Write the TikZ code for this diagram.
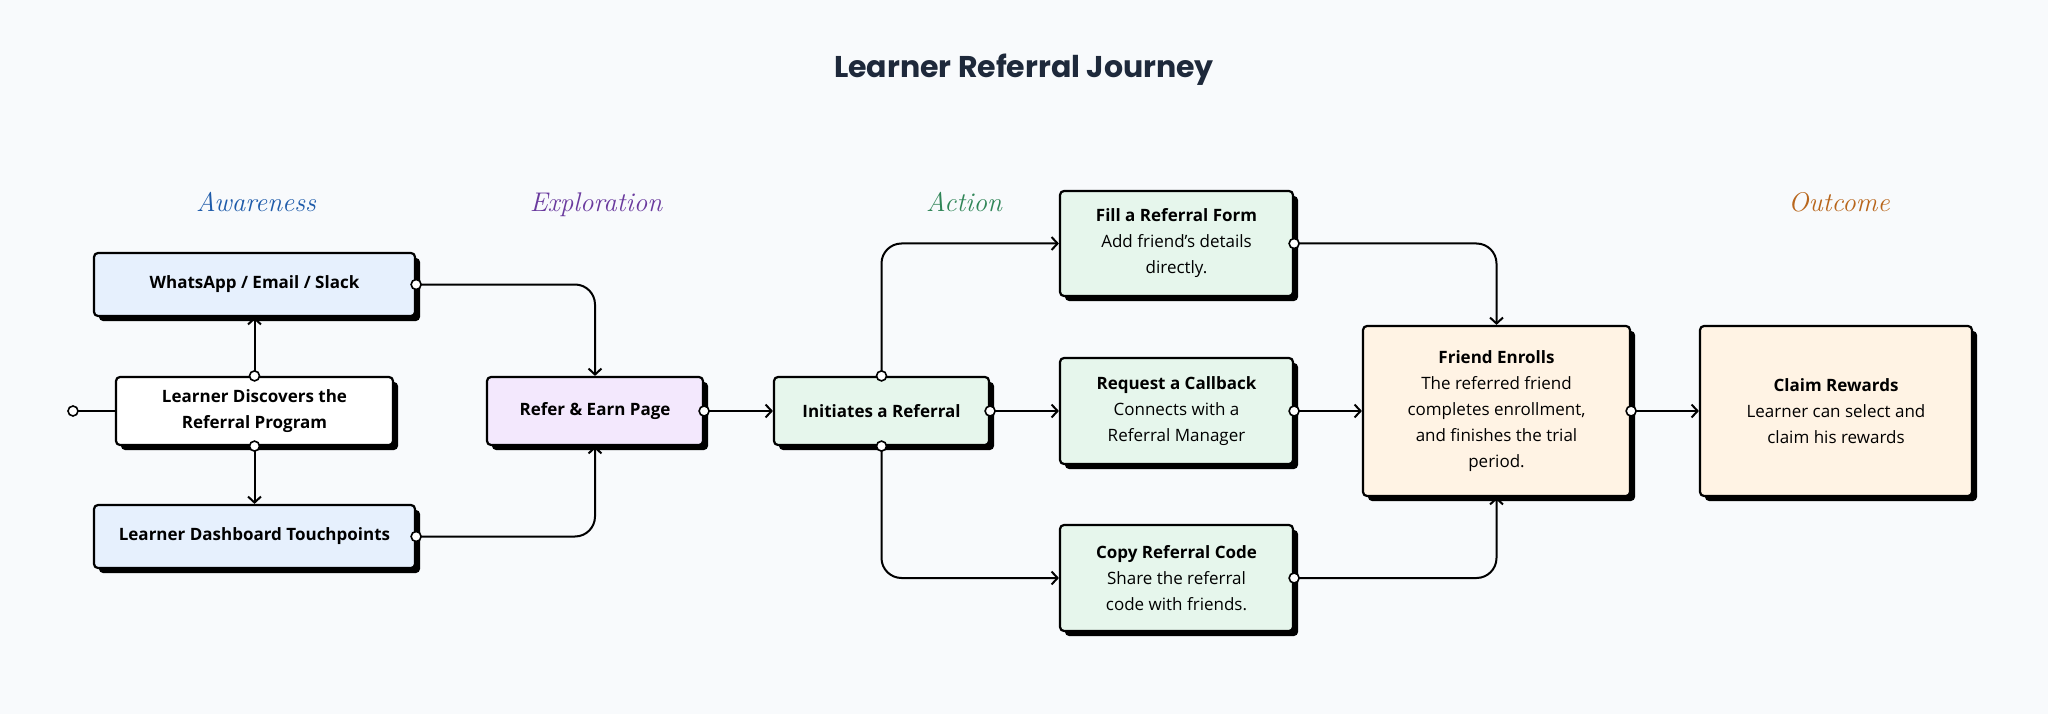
\documentclass[tikz,border=0pt]{standalone}
\usepackage{fontspec}
\setsansfont{Open Sans}
\newfontfamily\titleFont{Poppins}
\usetikzlibrary{arrows.meta,shadows}

\begin{document}
\begin{tikzpicture}[x=1pt, y=-1pt,
    font=\sffamily\fontsize{17}{26}\selectfont,
    box/.style={draw=borderColour, line width=2.2pt, rounded corners=4pt, align=center, inner sep=0pt,
        drop shadow={shadow xshift=5pt, shadow yshift=-5pt, opacity=1, fill=borderColour}},
    link/.style={draw=borderColour, line width=2pt, rounded corners=20pt},
    conn/.style={link, -{Straight Barb[length=6pt,width=13pt,line width=2pt]}},
    port/.style={fill=white, draw=borderColour, line width=1.6pt},
    stage/.style={anchor=base, font=\rmfamily\itshape\fontsize{27}{30}\selectfont}]
    \definecolor{borderColour}{HTML}{000000}
    \definecolor{bgColour}{HTML}{F8FAFC}
    \definecolor{titleColour}{HTML}{1E293B}
    \definecolor{fillAware}{HTML}{E6F0FD}
    \definecolor{fillExplore}{HTML}{F3E8FD}
    \definecolor{fillAction}{HTML}{E6F6EC}
    \definecolor{fillOutcome}{HTML}{FFF3E4}
    \definecolor{textAware}{HTML}{1E5BAA}
    \definecolor{textExplore}{HTML}{6A3A9E}
    \definecolor{textAction}{HTML}{2F8557}
    \definecolor{textOutcome}{HTML}{B8661C}

    \def\rowMid{411}

    % Background
    \useasboundingbox (0,0) rectangle (2048,714);
    \fill[bgColour] (0,0) rectangle (2048,714);

    % Title and stages
    \node[font=\titleFont\bfseries\fontsize{30}{36}\selectfont, text=titleColour] (title) at (1024,70) {Learner Referral Journey};
    \node[stage, text=textAware] (awareness) at (256,212) {Awareness};
    \node[stage, text=textExplore] (exploration) at (596,212) {Exploration};
    \node[stage, text=textAction] (action) at (964,212) {Action};
    \node[stage, text=textOutcome] (outcome) at (1839,212) {Outcome};

    % Awareness boxes
    \node[box, fill=fillAware, minimum width=321pt, minimum height=63pt] (whatsapp) at (254.5,284.5) {\textbf{WhatsApp / Email / Slack}};
    \node[box, fill=white, minimum width=277pt, minimum height=68pt] (discover) at (254.5,\rowMid) {\textbf{Learner Discovers the}\\\textbf{Referral Program}};
    \node[box, fill=fillAware, minimum width=321pt, minimum height=63pt] (dashboard) at (254.5,536.5) {\textbf{Learner Dashboard Touchpoints}};

    % Exploration and action boxes
    \node[box, fill=fillExplore, minimum width=216pt, minimum height=68pt] (refer) at (595,\rowMid) {\textbf{Refer \& Earn Page}};
    \node[box, fill=fillAction, minimum width=215pt, minimum height=68pt] (initiate) at (881.5,\rowMid) {\textbf{Initiates a Referral}};
    \node[box, fill=fillAction, minimum width=233pt, minimum height=105pt] (form) at (1176.5,243.5) {\textbf{Fill a Referral Form}\\Add friend’s details\\directly.};
    \node[box, fill=fillAction, minimum width=233pt, minimum height=106pt] (callback) at (1176.5,\rowMid) {\textbf{Request a Callback}\\Connects with a\\Referral Manager};
    \node[box, fill=fillAction, minimum width=233pt, minimum height=106pt] (code) at (1176.5,578) {\textbf{Copy Referral Code}\\Share the referral\\code with friends.};

    % Outcome boxes
    \node[box, fill=fillOutcome, minimum width=267pt, minimum height=170pt] (enroll) at (1496.5,\rowMid) {\textbf{Friend Enrolls}\\The referred friend\\completes enrollment,\\and finishes the trial\\period.};
    \node[box, fill=fillOutcome, minimum width=272pt, minimum height=170pt] (reward) at (1836,\rowMid) {\textbf{Claim Rewards}\\Learner can select and\\claim his rewards};

    % Connectors
    \coordinate (start) at (73,\rowMid);
    \draw[link] (start) -- (discover.west);
    \draw[conn] (discover.north) -- (whatsapp.south);
    \draw[conn] (discover.south) -- (dashboard.north);
    \draw[conn] (whatsapp.east) -| (refer.north);
    \draw[conn] (dashboard.east) -| (refer.south);
    \draw[conn] (refer.east) -- (initiate.west);
    \draw[conn] (initiate.north) |- (form.west);
    \draw[conn] (initiate.east) -- (callback.west);
    \draw[conn] (initiate.south) |- (code.west);
    \draw[conn] (form.east) -| (enroll.north);
    \draw[conn] (callback.east) -- (enroll.west);
    \draw[conn] (code.east) -| (enroll.south);
    \draw[conn] (enroll.east) -- (reward.west);

    % Ports
    \foreach \p in {start, discover.north, discover.south, whatsapp.east, dashboard.east, refer.east,
        initiate.north, initiate.east, initiate.south, form.east, callback.east, code.east, enroll.east}
        \filldraw[port] (\p) circle (5pt);

\end{tikzpicture}
\end{document}
